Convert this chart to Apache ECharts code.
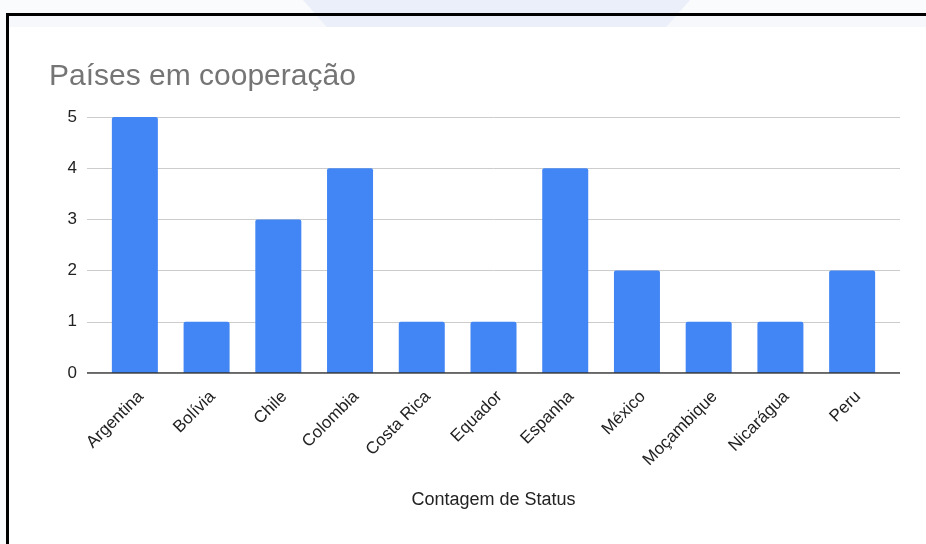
<!DOCTYPE html>
<html>
<head>
<meta charset="utf-8">
<script src="https://cdn.jsdelivr.net/npm/echarts@6/dist/echarts.min.js"></script>
<style>
html,body{margin:0;padding:0;background:#fff;}
#c{width:926px;height:544px;}
</style>
</head>
<body>
<div id="c"></div>
<script>
const categories = ["Argentina","Bolívia","Chile","Colombia","Costa Rica","Equador","Espanha","México","Moçambique","Nicarágua","Peru"];
const values = [5,1,3,4,1,1,4,2,1,1,2];
const titleText = "Países em cooperação";
const xAxisName = "Contagem de Status";
const yTicks = [0,1,2,3,4,5];

const chart = echarts.init(document.getElementById('c'), null, {renderer:'canvas'});
const FONT = "'Liberation Sans', Arial, sans-serif";
chart.setOption({
  animation:false,
  backgroundColor:'#fafbfd',
  title:{
    text:titleText, left:44, top:57,
    textStyle:{fontFamily:FONT, fontSize:30, fontWeight:'normal', color:'#757575'}
  },
  graphic:[
    {type:'rect', z:-10, shape:{x:9,y:16,width:917,height:528}, style:{fill:'#ffffff'}, silent:true},
    {type:'rect', z:-9, shape:{x:9,y:16,width:917,height:11}, style:{fill:'#f7f8fb'}, silent:true},
    {type:'polygon', z:-8, shape:{points:[[303,0],[690,0],[666,27],[327,27]]}, style:{fill:'#ebeff9'}, silent:true},
    {type:'rect', z:-5, shape:{x:6,y:13,width:920,height:3}, style:{fill:'#000'}, silent:true},
    {type:'rect', z:-5, shape:{x:6,y:13,width:3,height:531}, style:{fill:'#000'}, silent:true}
  ],
  grid:[
    {left:87, right:26, top:117, bottom:171, containLabel:false},
    {left:99, right:38, top:117, bottom:171, containLabel:false},
    {left:105, right:32, top:117, bottom:171, containLabel:false}
  ],
  xAxis:[
    {gridIndex:0, type:'value', min:0, max:1, show:true,
      axisLine:{show:false}, axisTick:{show:false}, axisLabel:{show:false}, splitLine:{show:false},
      name:xAxisName, nameLocation:'middle', nameGap:118,
      nameTextStyle:{fontFamily:FONT, fontSize:18, color:'#222'}
    },
    {gridIndex:1, type:'category', data:categories,
      axisLine:{show:false}, axisTick:{show:false}, axisLabel:{show:false}
    },
    {gridIndex:2, type:'category', data:categories,
      axisLine:{show:false}, axisTick:{show:false},
      axisLabel:{rotate:45, fontFamily:FONT, fontSize:17, color:'#222', margin:21, interval:0}
    }
  ],
  yAxis:[
    {gridIndex:0, type:'value', min:0, max:5, interval:1,
      axisLine:{show:false}, axisTick:{show:false},
      axisLabel:{fontFamily:FONT, fontSize:17, color:'#222', margin:10},
      splitLine:{lineStyle:{color:'#cccccc', width:1}}
    },
    {gridIndex:1, type:'value', min:0, max:5, interval:1, show:false, splitLine:{show:false}},
    {gridIndex:2, type:'value', min:0, max:5, interval:1, show:false, splitLine:{show:false}}
  ],
  series:[
    {type:'bar', xAxisIndex:1, yAxisIndex:1, data:values, barWidth:46,
      itemStyle:{color:'#4285f4', borderRadius:[2,2,0,0]}, z:3},
    {type:'line', xAxisIndex:0, yAxisIndex:0, data:[[0,0],[1,0]], symbol:'none',
      lineStyle:{color:'#333333', width:1.5}, z:4, silent:true}
  ]
});
</script>
</body>
</html>
